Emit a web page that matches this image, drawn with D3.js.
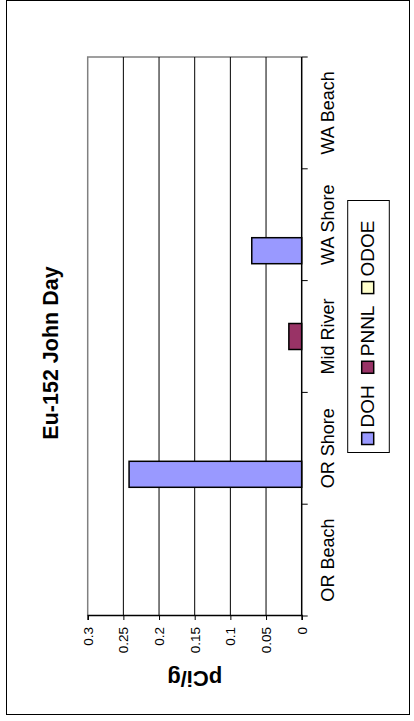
<!DOCTYPE html>
<html>
<head>
<meta charset="utf-8">
<script src="https://cdn.jsdelivr.net/npm/d3@7"></script>
<style>
  body { margin: 0; background: #fff; }
  text { font-family: "Liberation Sans", Arial, sans-serif; fill: #000; }
</style>
</head>
<body>
<div id="chart"></div>
<script>
// data
var categories = ["OR Beach", "OR Shore", "Mid River", "WA Shore", "WA Beach"];
var seriesNames = ["DOH", "PNNL", "ODOE"];
var DOH = [null, 0.242, null, 0.070, null];
var PNNL = [null, null, 0.018, null, null];
var ODOE = [null, null, null, null, null];
var valueTicks = [0, 0.05, 0.1, 0.15, 0.2, 0.25, 0.3];
var colors = ["#9999ff", "#993366", "#ffffcc"];

var W = 414, H = 721;

var svg = d3.select("#chart")
    .append("svg")
    .attr("width", W)
    .attr("height", H);

// outer border
svg.append("rect")
    .attr("x", 6.5).attr("y", 0.5)
    .attr("width", 403).attr("height", 714)
    .attr("fill", "none")
    .attr("stroke", "#000")
    .attr("stroke-width", 1);

// the whole chart is drawn turned a quarter turn counter-clockwise
var g = svg.append("g")
    .attr("transform", "translate(0," + H + ") rotate(-90)");

var plot = {left: 105, right: 664, top: 87.7, bottom: 301.7};

var x = d3.scaleBand().domain(categories).range([plot.left, plot.right]);
var xs = d3.scaleBand().domain(seriesNames).range([0, x.bandwidth()])
    .paddingInner(0).paddingOuter(0.65);
var y = d3.scaleLinear().domain([0, 0.3]).range([plot.bottom, plot.top]);

// plot border (grey)
g.append("path")
    .attr("d", "M" + plot.left + "," + plot.top + "H" + plot.right + "V" + plot.bottom)
    .attr("fill", "none")
    .attr("stroke", "#808080")
    .attr("stroke-width", 1.5);

// gridlines
g.selectAll(".grid")
    .data(valueTicks.filter(function(d) { return d > 0 && d < 0.3; }))
    .enter().append("line")
    .attr("class", "grid")
    .attr("x1", plot.left).attr("x2", plot.right)
    .attr("y1", function(d) { return y(d); })
    .attr("y2", function(d) { return y(d); })
    .attr("stroke", "#000")
    .attr("stroke-width", 1);

// bars
var seriesData = [DOH, PNNL, ODOE];
seriesData.forEach(function(vals, si) {
    g.selectAll(".bar" + si)
        .data(vals.map(function(v, i) { return {cat: categories[i], v: v}; })
            .filter(function(d) { return d.v != null; }))
        .enter().append("rect")
        .attr("class", "bar" + si)
        .attr("x", function(d) { return x(d.cat) + xs(seriesNames[si]); })
        .attr("width", xs.bandwidth())
        .attr("y", function(d) { return y(d.v); })
        .attr("height", function(d) { return y(0) - y(d.v); })
        .attr("fill", colors[si])
        .attr("stroke", "#000")
        .attr("stroke-width", 1.5);
});

// value axis
var yAxis = g.append("g")
    .attr("transform", "translate(" + plot.left + ",0)")
    .call(d3.axisLeft(y).tickValues(valueTicks).tickSize(4).tickPadding(7)
        .tickFormat(function(d) { return d3.format("")(d); }));
yAxis.select(".domain").attr("stroke", "#000").attr("stroke-width", 1.5);
yAxis.selectAll("text").style("font-size", "13.5px");

// category axis
var bounds = categories.map(function(c) { return x(c); }).concat([plot.right]);
g.append("line")
    .attr("x1", plot.left).attr("x2", plot.right)
    .attr("y1", plot.bottom).attr("y2", plot.bottom)
    .attr("stroke", "#000").attr("stroke-width", 1.5);
g.selectAll(".ctick")
    .data(bounds)
    .enter().append("line")
    .attr("class", "ctick")
    .attr("x1", function(d) { return d; }).attr("x2", function(d) { return d; })
    .attr("y1", plot.bottom).attr("y2", plot.bottom + 6)
    .attr("stroke", "#000");
g.selectAll(".clabel")
    .data(categories)
    .enter().append("text")
    .attr("class", "clabel")
    .attr("x", function(d) { return x(d) + x.bandwidth() / 2; })
    .attr("y", 334)
    .attr("text-anchor", "middle")
    .style("font-size", "18px")
    .text(function(d) { return d; });

// title
g.append("text")
    .attr("x", 368)
    .attr("y", 58)
    .attr("text-anchor", "middle")
    .style("font-size", "21.5px")
    .style("font-weight", "bold")
    .text("Eu-152 John Day");

// value axis title
g.append("text")
    .attr("transform", "translate(50," + ((plot.top + plot.bottom) / 2) + ") rotate(-90)")
    .attr("text-anchor", "middle")
    .style("font-size", "22px")
    .style("font-weight", "bold")
    .text("pCi/g");

// legend
var leg = g.append("g").attr("transform", "translate(268.5,347.7)");
leg.append("rect")
    .attr("width", 252).attr("height", 41.6)
    .attr("fill", "#fff")
    .attr("stroke", "#000")
    .attr("stroke-width", 1);
var lx = 8;
seriesNames.forEach(function(s, i) {
    leg.append("rect")
        .attr("x", lx).attr("y", 14)
        .attr("width", 12).attr("height", 12)
        .attr("fill", colors[i])
        .attr("stroke", "#000")
        .attr("stroke-width", 1.5);
    var t = leg.append("text")
        .attr("x", lx + 17).attr("y", 26.5)
        .style("font-size", "19px")
        .text(s);
    lx += 17 + t.node().getComputedTextLength() + 12;
});
</script>
</body>
</html>
